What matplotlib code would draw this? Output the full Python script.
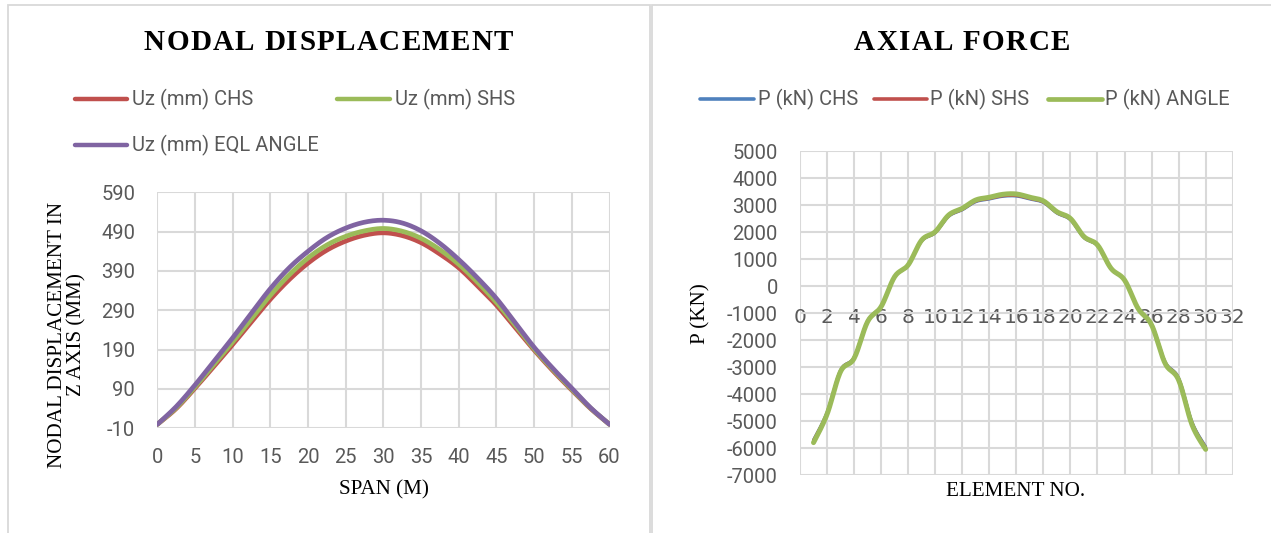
import numpy as np
import matplotlib
matplotlib.use("Agg")
import matplotlib.pyplot as plt
from matplotlib.lines import Line2D
from matplotlib.patches import Rectangle
from matplotlib import font_manager
from matplotlib.ft2font import FT2Font

plt.rcParams['axes.unicode_minus'] = False

# ---------------- data ----------------
span_m = [0, 2.5, 5, 7.5, 10, 12.5, 15, 17.5, 20, 22.5, 25, 27.5, 30,
          32.5, 35, 37.5, 40, 42.5, 45, 47.5, 50, 52.5, 55, 57.5, 60]
uz_chs = [0, 40, 92, 147, 203, 261, 318, 368, 410, 443, 466, 481, 487,
          480, 462, 433, 398, 352, 303, 246, 189, 136, 87, 40, 0]
uz_shs = [0, 42, 95, 152, 209, 269, 328, 380, 423, 456, 478, 492, 498,
          491, 473, 444, 407, 361, 310, 252, 192, 139, 89, 41, 0]
uz_angle = [0, 45, 100, 160, 220, 283, 345, 398, 440, 475, 499, 514, 519,
            512, 492, 460, 419, 372, 320, 258, 196, 142, 92, 42, 0]

element_no = list(range(1, 31))
p_chs = [-5700, -4680, -3120, -2640, -1300, -750, 335, 765, 1665, 1970,
         2580, 2820, 3120, 3220, 3320, 3330, 3220, 3090, 2700, 2450,
         1790, 1490, 640, 215, -815, -1415, -2810, -3410, -5050, -5950]
p_shs = [-5720, -4700, -3130, -2650, -1305, -755, 338, 770, 1675, 1980,
         2595, 2835, 3140, 3240, 3340, 3350, 3240, 3105, 2715, 2465,
         1800, 1500, 645, 217, -820, -1425, -2825, -3430, -5080, -5980]
p_angle = [-5800, -4750, -3170, -2680, -1320, -765, 345, 780, 1700, 2010,
           2630, 2875, 3185, 3285, 3395, 3407, 3285, 3150, 2750, 2500,
           1830, 1520, 655, 220, -830, -1440, -2865, -3480, -5150, -6050]

left_yticks = [-10, 90, 190, 290, 390, 490, 590]
left_xticks = list(range(0, 61, 5))
right_yticks = list(range(-7000, 5001, 1000))
right_xticks = list(range(0, 33, 2))

# ---------------- styling ----------------
W, H = 1271, 533
C_RED = '#C0504D'
C_GREEN = '#9BBB59'
C_PURPLE = '#8064A2'
C_BLUE = '#4F81BD'
GRID = '#D9D9D9'
TXT = '#595959'
SANS = ['Roboto', 'DejaVu Sans']
SERIF = ['Liberation Serif', 'DejaVu Serif']
TICK_FS = 14.5
AX_FS = 15.2

fig = plt.figure(figsize=(W / 100, H / 100), dpi=100)
fig.patch.set_facecolor('white')


def fx(px):
    return px / W


def fy(py):
    return 1 - py / H


def smooth(x, y, n=16):
    pts = np.column_stack([np.asarray(x, float), np.asarray(y, float)])
    P = np.vstack([pts[0], pts, pts[-1]])
    out = []
    t = np.linspace(0, 1, n, endpoint=False)[:, None]
    for i in range(1, len(P) - 2):
        p0, p1, p2, p3 = P[i - 1], P[i], P[i + 1], P[i + 2]
        seg = 0.5 * ((2 * p1) + (-p0 + p2) * t + (2 * p0 - 5 * p1 + 4 * p2 - p3) * t ** 2
                     + (-p0 + 3 * p1 - 3 * p2 + p3) * t ** 3)
        out.append(seg)
    out.append(pts[-1][None])
    s = np.vstack(out)
    return s[:, 0], s[:, 1]


def spaced_title(text, cx, cy, size, spacing_px):
    fp = font_manager.FontProperties(family='Liberation Serif', weight='bold')
    try:
        path = font_manager.findfont(fp)
        ft = FT2Font(path)
        ft.set_size(size, 100)
        adv = []
        for c in text:
            g = ft.load_char(ord(c))
            adv.append(g.linearHoriAdvance / 65536.0)
        total = sum(adv) + spacing_px * (len(text) - 1)
        x = cx - total / 2
        for c, a in zip(text, adv):
            if c != ' ':
                fig.text(fx(x), fy(cy), c, fontsize=size, fontweight='bold',
                         family=SERIF, ha='left', va='center', color='black')
            x += a + spacing_px
    except Exception:
        fig.text(fx(cx), fy(cy), text, fontsize=size, fontweight='bold',
                 family=SERIF, ha='center', va='center', color='black')


# panel borders
fig.add_artist(Rectangle((fx(8), fy(560)), fx(650) - fx(8), fy(5) - fy(560),
                         transform=fig.transFigure, fill=False, edgecolor=GRID, lw=1.3))
fig.add_artist(Rectangle((fx(652), fy(560)), fx(1290) - fx(652), fy(5) - fy(560),
                         transform=fig.transFigure, fill=False, edgecolor=GRID, lw=1.3))


def style_axes(ax):
    ax.set_axisbelow(True)
    ax.grid(True, color=GRID, lw=1.5)
    for s in ax.spines.values():
        s.set_visible(False)
    ax.tick_params(length=0, colors=TXT, labelsize=TICK_FS)
    for lab in ax.get_xticklabels() + ax.get_yticklabels():
        lab.set_family(SANS)


# ---------------- left chart ----------------
axL = fig.add_axes([fx(157.3), fy(428.3), fx(609.5) - fx(157.3), fy(192.3) - fy(428.3)])
for yv, col in [(uz_chs, C_RED), (uz_shs, C_GREEN), (uz_angle, C_PURPLE)]:
    sx, sy = smooth(span_m, yv)
    axL.plot(sx, sy, color=col, lw=3.4, solid_capstyle='round')
axL.set_xlim(0, 60)
axL.set_ylim(-10, 590)
axL.set_xticks(left_xticks)
axL.set_yticks(left_yticks)
axL.set_xticklabels([str(v) for v in left_xticks])
axL.set_yticklabels([str(v) for v in left_yticks])
style_axes(axL)
axL.tick_params(axis='y', pad=16)
axL.tick_params(axis='x', pad=14)

fig.text(fx(384), fy(490), 'SPAN (M)', family=SERIF, fontsize=AX_FS,
         ha='center', va='center', color='black')
fig.text(fx(67), fy(335), 'NODAL DISPLACEMENT IN\nZ AXIS (MM)', family=SERIF,
         fontsize=AX_FS, ha='center', va='center', rotation=90,
         linespacing=1.0, multialignment='center', color='black')

spaced_title('NODAL DISPLACEMENT', 328.5, 42, 21, 1.3)

# left legend
for (x0, x1, yy, col, lab) in [(75, 127, 99, C_RED, 'Uz (mm) CHS'),
                               (337, 390, 99, C_GREEN, 'Uz (mm) SHS'),
                               (75, 127, 145, C_PURPLE, 'Uz (mm) EQL ANGLE')]:
    fig.add_artist(Line2D([fx(x0), fx(x1)], [fy(yy), fy(yy)], transform=fig.transFigure,
                          color=col, lw=3.2, solid_capstyle='round'))
    fig.text(fx(x1 + 5), fy(yy), lab, family=SANS, fontsize=TICK_FS,
             ha='left', va='center', color=TXT)

# ---------------- right chart ----------------
axR = fig.add_axes([fx(800), fy(475), fx(1232.7) - fx(800), fy(151) - fy(475)])
for yv, col, lw in [(p_chs, C_BLUE, 2.2), (p_shs, C_RED, 2.2), (p_angle, C_GREEN, 3.6)]:
    sx, sy = smooth(element_no, yv)
    axR.plot(sx, sy, color=col, lw=lw, solid_capstyle='round')
axR.set_xlim(0, 32)
axR.set_ylim(-7000, 5000)
axR.set_xticks(right_xticks)
axR.set_yticks(right_yticks)
axR.set_xticklabels([str(v) for v in right_xticks])
axR.set_yticklabels([str(v) for v in right_yticks])
style_axes(axR)
axR.spines['bottom'].set_position(('data', 0))
axR.tick_params(axis='y', pad=16)
axR.tick_params(axis='x', pad=16)

fig.text(fx(1016), fy(492), 'ELEMENT NO.', family=SERIF, fontsize=AX_FS,
         ha='center', va='center', color='black')
fig.text(fx(701), fy(314), 'P (KN)', family=SERIF, fontsize=AX_FS,
         ha='center', va='center', rotation=90, color='black')

spaced_title('AXIAL FORCE', 962, 42, 21, 1.3)

for (x0, x1, col, lw, lab) in [(699.5, 754, C_BLUE, 2.6, 'P (kN) CHS'),
                               (874.5, 927, C_RED, 2.6, 'P (kN) SHS'),
                               (1048, 1101.5, C_GREEN, 3.4, 'P (kN) ANGLE')]:
    fig.add_artist(Line2D([fx(x0), fx(x1)], [fy(99), fy(99)], transform=fig.transFigure,
                          color=col, lw=lw, solid_capstyle='round'))
    fig.text(fx(x1 + 3.5), fy(99), lab, family=SANS, fontsize=TICK_FS,
             ha='left', va='center', color=TXT)

fig.savefig('out.png', dpi=100, facecolor='white')
